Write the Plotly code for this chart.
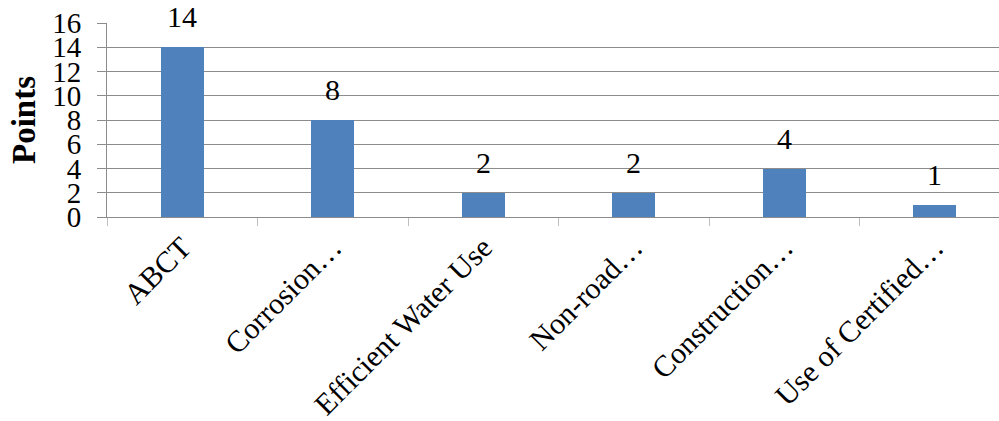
import plotly.graph_objects as go

# Points awarded per category
categories = ["ABCT", "Corrosion…", "Efficient Water Use", "Non-road…",
              "Construction…", "Use of Certified…"]
points = [14, 8, 2, 2, 4, 1]
y_ticks = [0, 2, 4, 6, 8, 10, 12, 14, 16]

BAR_COLOR = "#4F81BD"
GRID = "#8C8C8C"
FONT = "Liberation Serif, Times New Roman, serif"

W, H = 999, 421
M_L, M_R, M_T, M_B = 107, 0, 23, 204

fig = go.Figure(
    go.Bar(
        x=categories,
        y=points,
        width=0.286,
        marker=dict(color=BAR_COLOR, line=dict(width=0)),
        hoverinfo="x+y",
    )
)

# value labels sit a little above each bar
annotations = [
    dict(
        x=c, y=v, xref="x", yref="y",
        text=str(v),
        showarrow=False,
        xanchor="center", yanchor="bottom",
        yshift=12,
        font=dict(family=FONT, size=30, color="black"),
    )
    for c, v in zip(categories, points)
]

annotations.append(
    dict(
        text="<b>Points</b>",
        textangle=-90,
        xref="paper",
        yref="paper",
        x=(24 - M_L) / (W - M_L - M_R),
        y=(217 - 120) / (H - M_T - M_B),
        xanchor="center",
        yanchor="middle",
        showarrow=False,
        font=dict(family=FONT, size=33, color="black"),
    )
)

# the last category slot runs past the right edge of the page
x_end = 5.5 - 11 / 150.5

fig.update_layout(
    width=W,
    height=H,
    margin=dict(l=M_L, r=M_R, t=M_T, b=M_B, pad=0, autoexpand=False),
    paper_bgcolor="white",
    plot_bgcolor="white",
    showlegend=False,
    font=dict(family=FONT, size=30, color="black"),
    bargap=0,
    xaxis=dict(
        type="category",
        range=[-0.5, x_end],
        automargin=False,
        tickson="boundaries",
        ticks="outside",
        ticklen=8,
        tickwidth=1,
        tickcolor="#BFBFBF",
        tickangle=-45,
        tickfont=dict(family=FONT, size=30, color="black"),
        showline=True,
        linecolor=GRID,
        linewidth=1,
        showgrid=False,
        zeroline=False,
    ),
    yaxis=dict(
        range=[0, 16],
        tickvals=y_ticks,
        automargin=False,
        ticks="outside",
        ticklen=9,
        tickwidth=1,
        tickcolor=GRID,
        ticklabelstandoff=10,
        tickfont=dict(family=FONT, size=29, color="black"),
        showline=True,
        linecolor=GRID,
        linewidth=1,
        showgrid=True,
        gridcolor=GRID,
        gridwidth=1,
        zeroline=False,
    ),
    annotations=annotations,
)

fig.write_html("out.html")
